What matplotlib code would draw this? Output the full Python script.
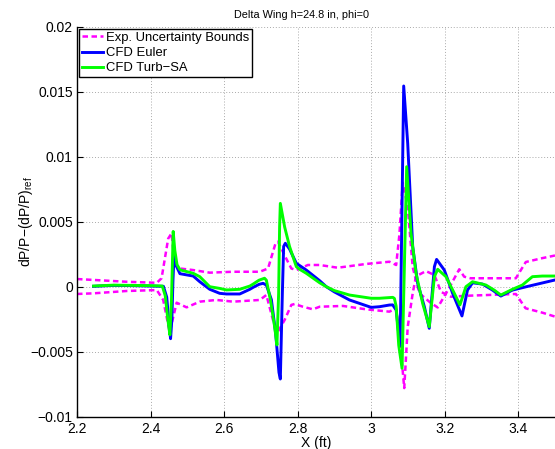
import matplotlib
matplotlib.use('Agg')
import matplotlib.pyplot as plt

plt.rcParams['font.family'] = ['Liberation Sans', 'DejaVu Sans']
plt.rcParams['mathtext.fontset'] = 'custom'
plt.rcParams['mathtext.rm'] = 'Liberation Sans'
plt.rcParams['mathtext.default'] = 'regular'
plt.rcParams['font.size'] = 10

# experimental uncertainty band
x_up = [2.2, 2.245, 2.335, 2.417, 2.43, 2.448, 2.457, 2.466, 2.48, 2.516, 2.561, 2.6245,
        2.697, 2.7195, 2.740, 2.7466, 2.7647, 2.783, 2.7965, 2.828, 2.86, 2.909, 2.9865,
        3.0497, 3.068, 3.0768, 3.0857, 3.0994, 3.113, 3.131, 3.16, 3.181, 3.21, 3.2396,
        3.253, 3.27, 3.3935, 3.4206, 3.466, 3.5]
y_up = [0.00059, 0.00052, 0.00038, 0.0003, 0.00065, 0.0037, 0.0041, 0.0018, 0.0014, 0.00128,
        0.00108, 0.00115, 0.00115, 0.0014, 0.00334, 0.00346, 0.0024, 0.0014, 0.00128, 0.00167,
        0.00167, 0.00146, 0.00175, 0.00192, 0.00167, 0.004, 0.0080, 0.00615, 0.0015, -0.0005,
        -0.0012, -0.0016, -0.0002, 0.00134, 0.00077, 0.00065, 0.00065, 0.0019, 0.0022, 0.0024]
x_lo = [2.2, 2.245, 2.335, 2.417, 2.4345, 2.452, 2.471, 2.498, 2.534, 2.579, 2.6245, 2.697,
        2.715, 2.733, 2.7466, 2.7647, 2.783, 2.792, 2.8145, 2.8415, 2.86, 2.923, 2.9865,
        3.0497, 3.068, 3.078, 3.090, 3.0994, 3.113, 3.122, 3.149, 3.172, 3.19, 3.217, 3.2577,
        3.3935, 3.42, 3.466, 3.5]
y_lo = [-0.00056, -0.00051, -0.00033, -0.00026, -0.00102, -0.0035, -0.00123, -0.00159,
        -0.00115, -0.00102, -0.00115, -0.00102, -0.00064, -0.00256, -0.00346, -0.00256,
        -0.0014, -0.00133, -0.00154, -0.00174, -0.00154, -0.00148, -0.00174, -0.00192,
        -0.00166, -0.0040, -0.0078, -0.0031, -0.0005, 0.0008, 0.0012, 0.0009, -0.0004,
        -0.00077, -0.0007, -0.00056, -0.00166, -0.002, -0.0023]

# CFD Euler
x_eu = [2.245, 2.30, 2.35, 2.40, 2.435, 2.444, 2.450, 2.4545, 2.458, 2.461, 2.4644, 2.470,
        2.48, 2.50, 2.516, 2.534, 2.561, 2.588, 2.6065, 2.6426, 2.67, 2.679, 2.695, 2.706,
        2.715, 2.7287, 2.7403, 2.7493, 2.753, 2.7585, 2.762, 2.7666, 2.778, 2.7965, 2.8236,
        2.86, 2.878, 2.90, 2.941, 2.97, 3.0, 3.0225, 3.0497, 3.0587, 3.068, 3.0787, 3.0885,
        3.0994, 3.113, 3.1265, 3.1447, 3.158, 3.172, 3.178, 3.199, 3.2215, 3.247, 3.262,
        3.2757, 3.303, 3.33, 3.3527, 3.3843, 3.4296, 3.4974]
y_eu = [0.00003, 0.0001, 0.00008, 0.00005, 0.00003, -0.0008, -0.0028, -0.0040, -0.0025,
        0.0005, 0.0027, 0.0016, 0.0010, 0.0009, 0.00082, 0.00038, -0.0002, -0.00051,
        -0.00056, -0.00056, -0.0002, -0.00005, 0.00018, 0.00026, 0.00013, -0.001, -0.0036,
        -0.0066, -0.0071, -0.0005, 0.0031, 0.00334, 0.0029, 0.0018, 0.00128, 0.00046, 0.0,
        -0.0004, -0.00102, -0.0013, -0.00159, -0.00154, -0.00141, -0.0014, -0.0018,
        -0.00456, 0.01544, 0.01103, 0.00308, 0.00026, -0.00154, -0.0032, 0.00154, 0.0021,
        0.00128, -0.0005, -0.00225, -0.00026, 0.0003, 0.0002, -0.00026, -0.00072, -0.00026,
        0.00005, 0.0005]

# CFD Turb-SA
x_sa = [2.245, 2.30, 2.35, 2.40, 2.432, 2.440, 2.447, 2.4526, 2.457, 2.4616, 2.466, 2.472,
        2.48, 2.50, 2.516, 2.534, 2.561, 2.588, 2.6065, 2.6426, 2.67, 2.679, 2.695, 2.710,
        2.715, 2.726, 2.7376, 2.7438, 2.7484, 2.751, 2.753, 2.7647, 2.778, 2.7965, 2.8054,
        2.8236, 2.86, 2.878, 2.90, 2.941, 3.0, 3.0225, 3.0587, 3.0632, 3.068, 3.075, 3.084,
        3.0966, 3.1085, 3.122, 3.14, 3.158, 3.172, 3.181, 3.2035, 3.226, 3.2415, 3.2577,
        3.2757, 3.312, 3.3346, 3.3527, 3.3843, 3.4114, 3.4385, 3.4657, 3.4974]
y_sa = [0.00005, 0.00012, 0.0001, 0.00008, 0.00005, -0.0007, -0.0025, -0.0037, -0.001,
        0.00425, 0.0028, 0.0017, 0.0013, 0.00115, 0.00103, 0.00077, 0.0, -0.00013, -0.00025,
        -0.0002, 0.00005, 0.0002, 0.0005, 0.00065, 0.0005, -0.001, -0.0031, -0.00448,
        -0.0005, 0.0046, 0.00641, 0.0046, 0.0031, 0.00154, 0.00134, 0.00103, 0.0003, 0.0,
        -0.0003, -0.00064, -0.00089, -0.00089, -0.00082, -0.0009, -0.0015, -0.0045,
        -0.00628, 0.00923, 0.0041, 0.00103, -0.00128, -0.00308, 0.00077, 0.00134, 0.00077,
        -0.0005, -0.0014, 0.0, 0.00038, 0.00013, -0.00026, -0.00064, -0.0002, 0.00013,
        0.00077, 0.00082, 0.00082]

xticks = [2.2, 2.4, 2.6, 2.8, 3.0, 3.2, 3.4]
xlabels = ['2.2', '2.4', '2.6', '2.8', '3', '3.2', '3.4']
yticks = [-0.01, -0.005, 0, 0.005, 0.01, 0.015, 0.02]
ylabels = ['\u22120.01', '\u22120.005', '0', '0.005', '0.01', '0.015', '0.02']

fig = plt.figure(figsize=(5.55, 4.49), dpi=100)
ax = fig.add_axes([77/555, 32.3/449, 478/555, 390/449])

dash = dict(color='#ff00ff', lw=1.8, dashes=(2.2, 1.4))
ax.plot(x_up, y_up, label='Exp. Uncertainty Bounds', **dash)
ax.plot(x_lo, y_lo, **dash)
ax.plot(x_eu, y_eu, color='#0000ff', lw=2.1, label='CFD Euler')
ax.plot(x_sa, y_sa, color='#00ff00', lw=2.1, label='CFD Turb\u2212SA')

ax.set_xlim(2.2, 3.5)
ax.set_ylim(-0.01, 0.02)
ax.set_xticks(xticks)
ax.set_xticklabels(xlabels)
ax.set_yticks(yticks)
ax.set_yticklabels(ylabels)
ax.tick_params(direction='in', length=4, width=0.8, top=False, right=False)
ax.tick_params(axis='x', pad=4)
ax.tick_params(axis='y', pad=3)
ax.grid(True, color='#aaaaaa', linestyle=(0, (1, 2)), linewidth=0.7)
for s in ['top', 'right']:
    ax.spines[s].set_visible(False)
for s in ['left', 'bottom']:
    ax.spines[s].set_linewidth(1.0)

ax.set_title('Delta Wing h=24.8 in, phi=0', fontsize=7.8, pad=6, x=0.47)
ax.set_xlabel('X (ft)', labelpad=0)
ax.set_ylabel('dP/P\u2212(dP/P)$_{ref}$')
ax.yaxis.set_label_coords(-0.088, 0.5)

leg = ax.legend(loc='upper left', borderaxespad=0.15, handlelength=1.6,
                handletextpad=0.2, labelspacing=0.22, borderpad=0.25, fancybox=False,
                framealpha=1, edgecolor='black', fontsize=9.4)
leg.get_frame().set_linewidth(1.0)

fig.savefig('out.png', dpi=100)
